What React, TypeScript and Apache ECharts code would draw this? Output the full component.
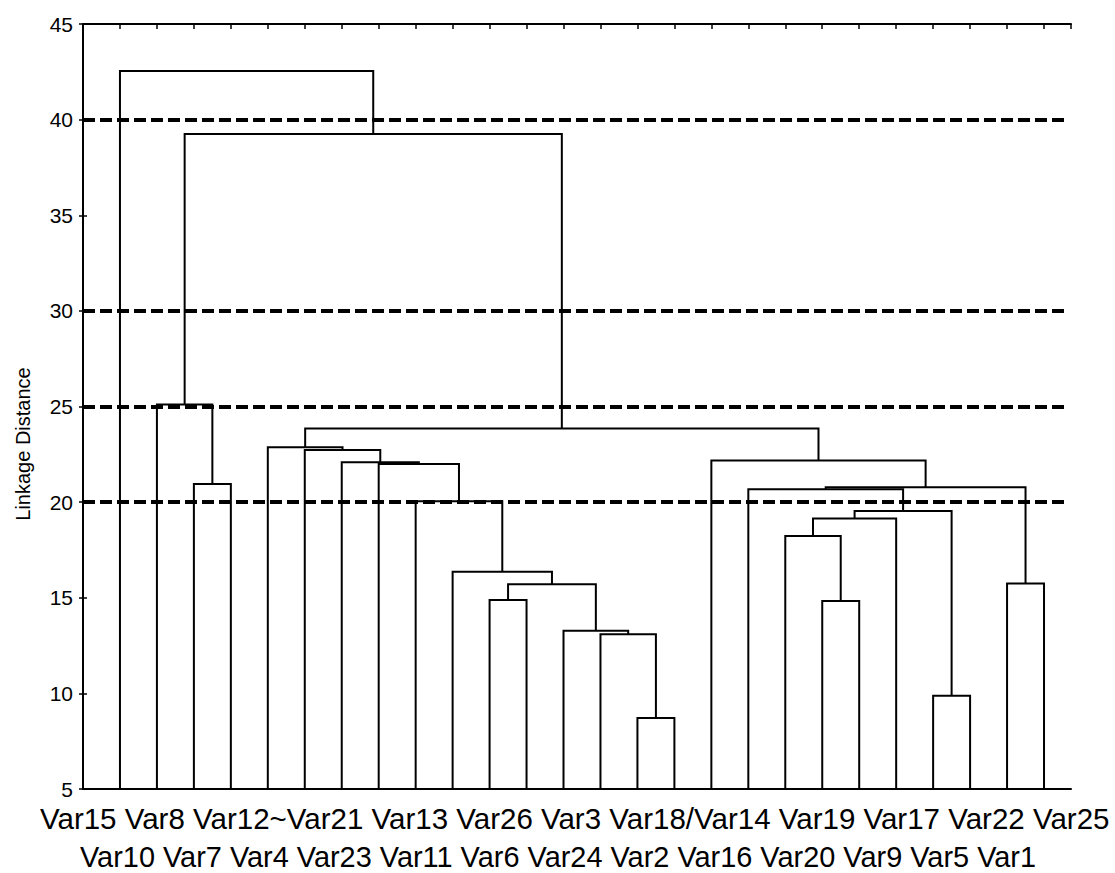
import React, { useEffect, useRef } from "react";
import * as echarts from "echarts";

// Leaves in dendrogram order (left to right)
const leaves = [
  "Var15", "Var10", "Var8", "Var7", "Var12", "Var4", "Var21", "Var23", "Var13",
  "Var11", "Var26", "Var6", "Var3", "Var24", "Var18", "Var2", "Var14", "Var16",
  "Var19", "Var20", "Var17", "Var9", "Var22", "Var5", "Var25", "Var1",
];

// Agglomeration steps (linkage): id, left child, right child, linkage distance
const mergeIds = ["E", "M", "S", "K", "O", "T", "L1", "L", "J", "I", "H", "P", "Q", "R", "N1", "N", "X1", "X", "F1", "F", "C", "G", "D", "B", "Root"];
const mergeLeft = ["Var8", "Var18", "Var22", "Var26", "Var20", "Var25", "Var24", "Var3", "K", "Var11", "Var13", "Var19", "P", "Q", "Var16", "N1", "Var23", "Var21", "Var4", "Var12", "Var10", "Var14", "F", "C", "Var15"];
const mergeRight = ["Var7", "Var2", "Var5", "Var6", "Var17", "Var1", "M", "L1", "L", "J", "I", "O", "Var9", "S", "R", "T", "H", "X1", "X", "F1", "E", "N", "G", "D", "B"];
const mergeHeights = [20.95, 8.71, 9.88, 14.88, 14.83, 15.75, 13.09, 13.28, 15.7, 16.36, 20.05, 18.23, 19.15, 19.53, 20.67, 20.78, 22.0, 22.08, 22.73, 22.87, 25.1, 22.18, 23.85, 39.25, 42.54];

// Dashed cut-off levels
const thresholds = [20, 25, 30, 40];

// Axis ranges
const yMin = 5;
const yMax = 45;
const yStep = 5;
const xMin = 0;
const xMax = 26.73;

// Tick label rows under the tree (as printed)
const labelRow1 = ["Var15", "Var8", "Var12~Var21", "Var13", "Var26", "Var3", "Var18/Var14", "Var19", "Var17", "Var22", "Var25"];
const labelRow2 = ["Var10", "Var7", "Var4", "Var23", "Var11", "Var6", "Var24", "Var2", "Var16", "Var20", "Var9", "Var5", "Var1"];
const yAxisName = "Linkage Distance";

function buildLinks() {
  const pos: Record<string, { x: number; h: number }> = {};
  leaves.forEach((n, i) => {
    pos[n] = { x: i + 1, h: yMin };
  });
  const links: any[] = [];
  mergeIds.forEach((id, k) => {
    const a = pos[mergeLeft[k]];
    const b = pos[mergeRight[k]];
    const h = mergeHeights[k];
    links.push({
      coords: [
        [a.x, a.h],
        [a.x, h],
        [b.x, h],
        [b.x, b.h],
      ],
    });
    pos[id] = { x: (a.x + b.x) / 2, h };
  });
  return links;
}

const FONT = "'Liberation Sans', Arial, Helvetica, sans-serif";

export default function App() {
  const ref = useRef<HTMLDivElement>(null);

  useEffect(() => {
    if (!ref.current) return;
    const chart = echarts.init(ref.current, undefined, { renderer: "svg" });
    const axisLine = { show: true, lineStyle: { color: "#000", width: 2 } };
    const option: any = {
      animation: false,
      backgroundColor: "#fff",
      grid: { left: 83, right: 44, top: 24, bottom: 84, containLabel: false },
      xAxis: [
        {
          type: "value", min: xMin, max: xMax, interval: 1, position: "bottom",
          axisLine, axisTick: { show: false }, axisLabel: { show: false }, splitLine: { show: false },
        },
        {
          type: "value", min: xMin, max: xMax, interval: 1, position: "top",
          axisLine,
          axisTick: { show: true, inside: true, length: 5, lineStyle: { color: "#000", width: 1.5 } },
          axisLabel: { show: false }, splitLine: { show: false },
        },
      ],
      yAxis: [
        {
          type: "value", min: yMin, max: yMax, interval: yStep, position: "left",
          axisLine,
          axisTick: { show: true, inside: true, length: 4, lineStyle: { color: "#000", width: 1.5 } },
          axisLabel: { color: "#000", fontSize: 21, fontFamily: FONT, margin: 10 },
          splitLine: { show: false },
        },
        {
          type: "value", min: yMin, max: yMax, interval: yStep, position: "right",
          axisLine,
          axisTick: { show: true, inside: true, length: 4, lineStyle: { color: "#000", width: 1.5 } },
          axisLabel: { show: false }, splitLine: { show: false },
        },
      ],
      series: [
        {
          type: "lines",
          coordinateSystem: "cartesian2d",
          xAxisIndex: 0,
          yAxisIndex: 0,
          polyline: true,
          silent: true,
          data: buildLinks(),
          lineStyle: { color: "#000", width: 2, opacity: 1 },
          z: 3,
        },
        {
          type: "lines",
          coordinateSystem: "cartesian2d",
          xAxisIndex: 0,
          yAxisIndex: 0,
          silent: true,
          data: thresholds.map((v) => ({ coords: [[xMin, v], [xMax - 0.15, v]] })),
          lineStyle: { color: "#000", width: 4, opacity: 1, type: [12, 5], cap: "butt" },
          z: 4,
        },
      ],
      graphic: [
        {
          type: "text", left: 40, top: 803,
          style: { text: labelRow1.join(" "), font: `29.5px ${FONT}`, fill: "#000" },
        },
        {
          type: "text", left: 80, top: 842,
          style: { text: labelRow2.join(" "), font: `28.9px ${FONT}`, fill: "#000" },
        },
        {
          type: "text", x: 23, y: 444, rotation: Math.PI / 2,
          style: { text: yAxisName, font: `20px ${FONT}`, fill: "#000", align: "center", verticalAlign: "middle" },
        },
      ],
    };
    chart.setOption(option);
    return () => chart.dispose();
  }, []);

  return (
    <div
      ref={ref}
      style={{ position: "fixed", left: 0, top: 0, width: 1115, height: 873, background: "#fff" }}
    />
  );
}
